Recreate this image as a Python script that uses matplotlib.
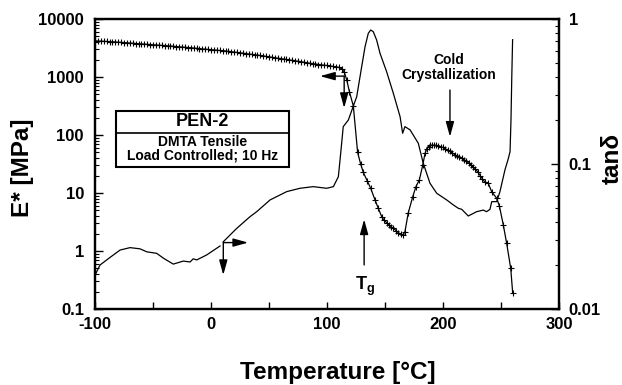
import numpy as np
import matplotlib
matplotlib.use("Agg")
import matplotlib.pyplot as plt
from matplotlib.patches import Rectangle

plt.rcParams['font.family'] = ['Liberation Sans', 'DejaVu Sans']
plt.rcParams['font.weight'] = 'bold'
plt.rcParams['mathtext.fontset'] = 'custom'
plt.rcParams['mathtext.bf'] = 'Liberation Sans:bold'
plt.rcParams['mathtext.rm'] = 'Liberation Sans:bold'

# storage modulus E* [MPa] (curve with + markers)
temp_e = [-100, -97.5, -95, -92.5, -90, -87.5, -85, -82.5, -80, -77.5, -75, -72.5, -70,
          -67.5, -65, -62.5, -60, -57.5, -55, -52.5, -50, -47.5, -45, -42.5, -40, -37.5,
          -35, -32.5, -30, -27.5, -25, -22.5, -20, -17.5, -15, -12.5, -10, -7.5, -5,
          -2.5, 0, 2.5, 5, 7.5, 10, 12.5, 15, 17.5, 20, 22.5, 25, 27.5, 30, 32.5, 35,
          37.5, 40, 42.5, 45, 47.5, 50, 52.5, 55, 57.5, 60, 62.5, 65, 67.5, 70, 72.5,
          75, 77.5, 80, 82.5, 85, 87.5, 90, 92.5, 95, 97.5, 100, 102.5, 105, 107.5, 110,
          113, 115, 117, 119.3, 122.7,
          126.4, 129, 131.3, 134.8, 137.7, 141.4, 144.2, 147.2, 149, 151.4, 153.5,
          155.5, 157.2, 159.5, 161.5, 163.5, 165.2, 167.2, 170, 173.9, 176.7, 179.6,
          182.5, 184.5, 186, 187.5, 189, 190.5, 192, 194, 196, 198, 200, 202, 204,
          206, 208, 210, 212, 214, 216, 218, 220, 222, 224, 226, 228, 230, 232, 234,
          236, 239, 242, 246.3, 248.6, 252, 254.9, 258.4, 260.1]
e_star = [4200, 4180, 4150, 4120, 4100, 4070, 4050, 4010, 3980, 3950, 3920, 3880, 3850,
          3820, 3780, 3750, 3720, 3690, 3660, 3630, 3600, 3570, 3540, 3510, 3480, 3450,
          3420, 3380, 3350, 3320, 3290, 3250, 3220, 3190, 3160, 3120, 3090, 3050, 3020,
          2990, 2960, 2930, 2900, 2880, 2850, 2810, 2770, 2730, 2690, 2650, 2610, 2570,
          2530, 2490, 2460, 2420, 2390, 2350, 2310, 2270, 2230, 2190, 2150, 2110, 2080,
          2040, 2010, 1970, 1940, 1900, 1870, 1830, 1800, 1760, 1730, 1700, 1670, 1640,
          1620, 1600, 1580, 1555, 1530, 1500, 1470,
          1380, 1200, 890, 560, 316,
          50, 31.6, 22.7, 16.1, 12.0, 7.6, 5.45, 3.9, 3.4, 3.09, 2.85,
          2.6, 2.46, 2.25, 2.07, 1.95, 1.86, 2.15, 4.5, 8.6, 12.9, 16.8,
          30, 48, 58, 63, 66, 67, 67, 66.5, 65, 63, 61, 58, 55,
          52, 49, 46, 43.5, 41.5, 39.5, 37.5, 35.5, 33, 30.5, 28, 26, 23, 20, 17.5,
          15.5, 14.7, 10.5, 8.1, 5.97, 2.81, 1.35, 0.50, 0.186]

# loss factor tan delta (plain curve, None = gap)
temp_tan = [-100, -95.7, -87, -78.4, -69.8, -61.2, -55.4, -46.8, -41, -32.5, -23.9, -18,
            -15.3, -12.3, -3.7, 7.8, None, 10.6, 22.2, 33.6, 39.4, 50.9, 65.3, 76.7,
            88.2, 99.7, 105.5, 109.8, 111.8, 114, 118.4, 122.7, 125.6, 129.9, 132.8,
            135.6, 137.7, 139.9, 142.8, 145.7, 151.4, 157.2, 163, 165.2, 167.2, 171.6,
            178.7, 183, 188.8, 194.6, 203.2, 208.9, 213.2, 216.1, 221.8, 229, 234.7,
            237.6, 240.5, 242, 246.3, 249.1, 253.4, 256.3, 257.8, 258.6, 259.3, 260]
tan_d = [0.0171, 0.0201, 0.0227, 0.0255, 0.0265, 0.0260, 0.0248, 0.0242, 0.0224, 0.0204,
         0.0214, 0.0211, 0.0222, 0.0218, 0.0236, 0.0272, None, 0.0291, 0.036, 0.0433,
         0.0469, 0.0565, 0.0645, 0.068, 0.0698, 0.068, 0.0698, 0.0818, 0.1185, 0.181,
         0.201, 0.251, 0.291, 0.469, 0.644, 0.797, 0.84, 0.817, 0.716, 0.58, 0.433,
         0.307, 0.212, 0.163, 0.181, 0.172, 0.139, 0.101, 0.0736, 0.0628, 0.0565,
         0.0522, 0.0495, 0.0487, 0.0438, 0.0469, 0.0481, 0.0469, 0.0487, 0.055, 0.055,
         0.0645, 0.091, 0.109, 0.1216, 0.2, 0.4, 0.72]

x_ticks = [-100, -50, 0, 50, 100, 150, 200, 250, 300]
x_ticklabels = ['-100', '', '0', '', '100', '', '200', '', '300']
e_ticks = [0.1, 1, 10, 100, 1000, 10000]
e_ticklabels = ['0.1', '1', '10', '100', '1000', '10000']
tan_ticks = [0.01, 0.1, 1]
tan_ticklabels = ['0.01', '0.1', '1']

tt = np.array([np.nan if v is None else v for v in temp_tan], dtype=float)
td = np.array([np.nan if v is None else v for v in tan_d], dtype=float)

fig = plt.figure(figsize=(6.22, 3.85), dpi=100)
ax = fig.add_axes([95/622, 1 - 309/385, 464/622, 290/385])
ax2 = ax.twinx()

ax.plot(temp_e, e_star, color='black', lw=0.9, marker='+', ms=4.5, mew=0.8)
ax2.plot(tt, td, color='black', lw=0.9)

ax.set_xlim(-100, 300)
ax.set_yscale('log')
ax.set_ylim(0.1, 10000)
ax2.set_yscale('log')
ax2.set_ylim(0.01, 1)

ax.set_xticks(x_ticks)
ax.set_xticklabels(x_ticklabels)
ax.set_yticks(e_ticks)
ax.set_yticklabels(e_ticklabels)
ax2.set_yticks(tan_ticks)
ax2.set_yticklabels(tan_ticklabels)

ax.tick_params(axis='x', direction='in', length=5, width=1, labelsize=12, pad=6, top=False)
ax.tick_params(axis='y', which='major', direction='in', length=6, width=1, labelsize=12, pad=8, right=False)
ax.tick_params(axis='y', which='minor', direction='in', length=3, width=0.8, right=False)
ax2.tick_params(axis='y', which='major', direction='in', length=6, width=1, labelsize=12, pad=7)
ax2.tick_params(axis='y', which='minor', direction='in', length=3, width=0.8)

for a in (ax, ax2):
    for s in a.spines.values():
        s.set_linewidth(1.6)

fig.text(22/622, 1 - 168/385, 'E* [MPa]', rotation=90, ha='center', va='center', fontsize=17.5)
fig.text(338/622, 1 - 372/385, 'Temperature [°C]', ha='center', va='center', fontsize=17.5)
fig.text(612/622, 1 - 158/385, 'tanδ', rotation=90, ha='center', va='center', fontsize=17.5)

# sample box
ax.add_patch(Rectangle((0.0453, 0.491), 0.3734, 0.192, transform=ax.transAxes,
                       fill=False, lw=1.5, color='black'))
ax.plot([0.0453, 0.4187], [0.606, 0.606], transform=ax.transAxes, color='black', lw=1.2)
ax.text(0.232, 0.645, 'PEN-2', transform=ax.transAxes, ha='center', va='center', fontsize=13)
ax.text(0.232, 0.577, 'DMTA Tensile', transform=ax.transAxes, ha='center', va='center', fontsize=10)
ax.text(0.232, 0.529, 'Load Controlled; 10 Hz', transform=ax.transAxes, ha='center', va='center', fontsize=10)

arrow = dict(arrowstyle='-|>,head_length=0.9,head_width=0.25', color='black', lw=1,
             shrinkA=0, shrinkB=0)

# axis indicator arrows
ax.annotate('', xy=(0.485, 0.803), xytext=(0.537, 0.803), xycoords='axes fraction', arrowprops=arrow)
ax.annotate('', xy=(0.537, 0.693), xytext=(0.537, 0.803), xycoords='axes fraction', arrowprops=arrow)
ax.annotate('', xy=(0.330, 0.229), xytext=(0.2765, 0.229), xycoords='axes fraction', arrowprops=arrow)
ax.annotate('', xy=(0.2765, 0.117), xytext=(0.2765, 0.229), xycoords='axes fraction', arrowprops=arrow)

# Tg and cold crystallization
ax.annotate('', xy=(0.580, 0.309), xytext=(0.580, 0.152), xycoords='axes fraction', arrowprops=arrow)
ax.text(0.582, 0.079, r'$\mathbf{T_g}$', transform=ax.transAxes, ha='center', va='center', fontsize=13)
ax.annotate('', xy=(0.765, 0.594), xytext=(0.765, 0.755), xycoords='axes fraction', arrowprops=arrow)
ax.text(0.763, 0.833, 'Cold\nCrystallization', transform=ax.transAxes, ha='center', va='center',
        fontsize=10, linespacing=1.1)

fig.savefig('out.png', dpi=100)
